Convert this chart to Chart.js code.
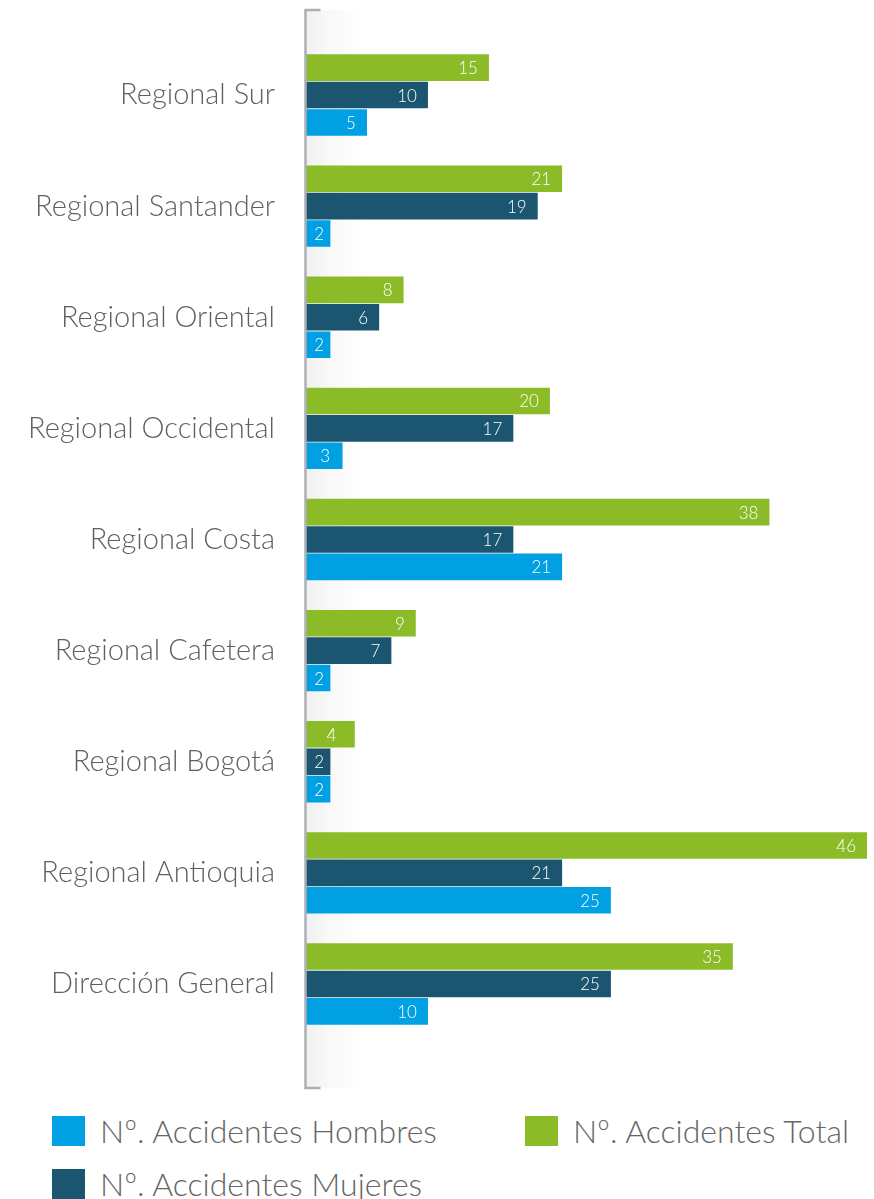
<!DOCTYPE html>
<html>
<head>
<meta charset="utf-8">
<script src="https://cdn.jsdelivr.net/npm/chart.js@4.4.1/dist/chart.umd.min.js"></script>
<style>
  html, body { margin: 0; padding: 0; background: #fff; }
  #wrap { position: relative; width: 874px; height: 1199px; overflow: hidden; }
  #box { position: absolute; left: 0; top: 0; width: 874px; height: 1100px; }
  #legend {
    position: absolute; left: 52px; top: 1111px;
    display: grid; grid-template-columns: auto auto; column-gap: 88px; row-gap: 14px;
    font-family: Lato, "Open Sans", sans-serif; font-weight: 300; font-size: 32px; color: #666;
  }
  #legend .item { display: flex; align-items: center; white-space: nowrap; }
  #legend .sw { width: 33px; height: 30px; margin-right: 15px; flex: none; }
</style>
</head>
<body>
<div id="wrap">
  <div id="box"><canvas id="accChart"></canvas></div>
  <div id="legend"></div>
</div>
<script>
const categories = ['Regional Sur', 'Regional Santander', 'Regional Oriental', 'Regional Occidental',
    'Regional Costa', 'Regional Cafetera', 'Regional Bogotá', 'Regional Antioquia', 'Dirección General'];
const totalVals = [15, 21, 8, 20, 38, 9, 4, 46, 35];
const mujeresVals = [10, 19, 6, 17, 17, 7, 2, 21, 25];
const hombresVals = [5, 2, 2, 3, 21, 2, 2, 25, 10];
const legendOrder = [2, 0, 1];

const FONT = 'Lato, "Open Sans", sans-serif';

// axis line with end ticks + soft shadow on its right side
const axisLine = {
    id: 'axisLine',
    beforeDatasetsDraw(chart) {
        const {ctx, chartArea} = chart;
        const x = chartArea.left;
        const top = 10, bottom = 1088;
        ctx.save();
        const g = ctx.createLinearGradient(x, 0, x + 60, 0);
        g.addColorStop(0, 'rgba(0,0,0,0.06)');
        g.addColorStop(0.4, 'rgba(0,0,0,0.025)');
        g.addColorStop(1, 'rgba(0,0,0,0)');
        ctx.fillStyle = g;
        ctx.fillRect(x, top, 60, bottom - top);
        ctx.restore();
    },
    afterDatasetsDraw(chart) {
        const {ctx, chartArea} = chart;
        const x = chartArea.left - 0.5;
        const top = 10, bottom = 1088;
        ctx.save();
        ctx.strokeStyle = '#aab0b5';
        ctx.lineWidth = 2.5;
        ctx.beginPath();
        ctx.moveTo(x + 15, top);
        ctx.lineTo(x, top);
        ctx.lineTo(x, bottom);
        ctx.lineTo(x + 15, bottom);
        ctx.stroke();
        ctx.restore();
    }
};

// white value labels at the end of each bar
const barValues = {
    id: 'barValues',
    afterDatasetsDraw(chart) {
        const {ctx} = chart;
        ctx.save();
        ctx.font = '300 17px ' + FONT;
        ctx.fillStyle = '#fff';
        ctx.textBaseline = 'middle';
        chart.data.datasets.forEach((ds, i) => {
            chart.getDatasetMeta(i).data.forEach((bar, j) => {
                const txt = String(ds.data[j]);
                const w = bar.x - bar.base;
                if (w < 50) {
                    ctx.textAlign = 'center';
                    ctx.fillText(txt, bar.base + w / 2 + 1, bar.y + 1);
                } else {
                    ctx.textAlign = 'right';
                    ctx.fillText(txt, bar.x - 11, bar.y + 1);
                }
            });
        });
        ctx.restore();
    }
};

const chart = new Chart(document.getElementById('accChart'), {
    type: 'bar',
    data: {
        labels: categories,
        datasets: [
            { label: 'Nº. Accidentes Total', data: totalVals, backgroundColor: '#8bbc27' },
            { label: 'Nº. Accidentes Mujeres', data: mujeresVals, backgroundColor: '#1b5570' },
            { label: 'Nº. Accidentes Hombres', data: hombresVals, backgroundColor: '#00a0e2' }
        ]
    },
    options: {
        indexAxis: 'y',
        responsive: true,
        maintainAspectRatio: false,
        animation: false,
        layout: { padding: { top: 39.5, bottom: 60.5, left: 0, right: 7 } },
        datasets: { bar: { categoryPercentage: 0.74, barPercentage: 0.97 } },
        scales: {
            x: { display: false, min: 0, max: 46 },
            y: {
                grid: { display: false, drawTicks: false },
                border: { display: false },
                ticks: { color: '#5f5f5f', padding: 31, font: { family: FONT, size: 29, weight: 300 } },
                afterFit(scale) {
                    scale.width = 306;
                    scale.paddingTop = 0;
                    scale.paddingBottom = 0;
                }
            }
        },
        plugins: {
            legend: { display: false },
            tooltip: { enabled: false }
        }
    },
    plugins: [axisLine, barValues]
});

// legend in the reference order: Hombres, Total, Mujeres
const legendEl = document.getElementById('legend');
legendOrder.forEach(i => {
    const ds = chart.data.datasets[i];
    const item = document.createElement('div');
    item.className = 'item';
    const sw = document.createElement('span');
    sw.className = 'sw';
    sw.style.background = ds.backgroundColor;
    const t = document.createElement('span');
    t.textContent = ds.label;
    item.appendChild(sw);
    item.appendChild(t);
    legendEl.appendChild(item);
});
</script>
</body>
</html>
